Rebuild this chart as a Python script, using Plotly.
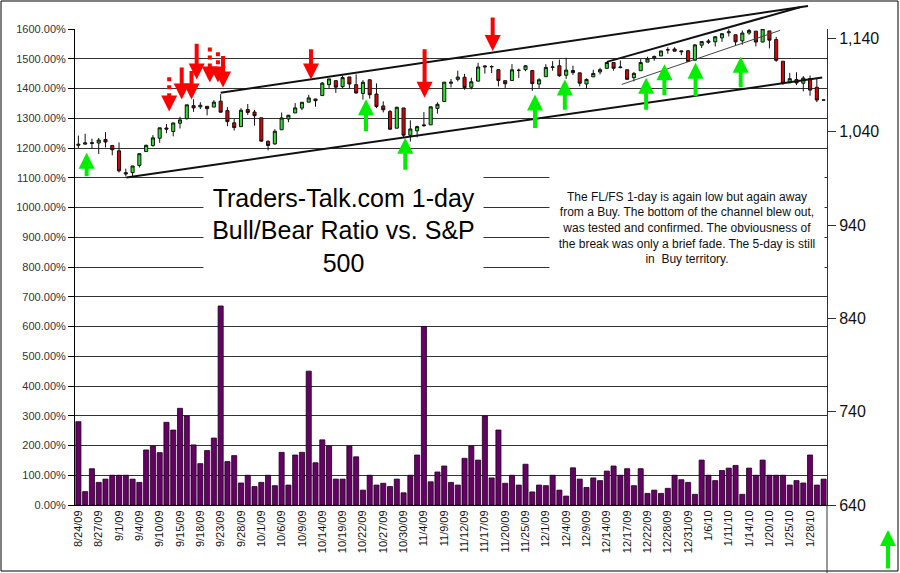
import plotly.graph_objects as go

# ---------------- data ----------------
dates = ["8/24/09", "8/25/09", "8/26/09", "8/27/09", "8/28/09", "8/31/09",
         "9/1/09", "9/2/09", "9/3/09", "9/4/09", "9/8/09", "9/9/09", "9/10/09", "9/11/09",
         "9/14/09", "9/15/09", "9/16/09", "9/17/09", "9/18/09", "9/21/09", "9/22/09",
         "9/23/09", "9/24/09", "9/25/09", "9/28/09", "9/29/09", "9/30/09",
         "10/1/09", "10/2/09", "10/5/09", "10/6/09", "10/7/09", "10/8/09", "10/9/09",
         "10/12/09", "10/13/09", "10/14/09", "10/15/09", "10/16/09", "10/19/09",
         "10/20/09", "10/21/09", "10/22/09", "10/23/09", "10/26/09", "10/27/09",
         "10/28/09", "10/29/09", "10/30/09",
         "11/2/09", "11/3/09", "11/4/09", "11/5/09", "11/6/09", "11/9/09", "11/10/09",
         "11/11/09", "11/12/09", "11/13/09", "11/16/09", "11/17/09", "11/18/09",
         "11/19/09", "11/20/09", "11/23/09", "11/24/09", "11/25/09", "11/27/09", "11/30/09",
         "12/1/09", "12/2/09", "12/3/09", "12/4/09", "12/7/09", "12/8/09", "12/9/09",
         "12/10/09", "12/11/09", "12/14/09", "12/15/09", "12/16/09", "12/17/09",
         "12/18/09", "12/21/09", "12/22/09", "12/23/09", "12/24/09", "12/28/09",
         "12/29/09", "12/30/09", "12/31/09",
         "1/4/10", "1/5/10", "1/6/10", "1/7/10", "1/8/10", "1/11/10", "1/12/10",
         "1/13/10", "1/14/10", "1/15/10", "1/19/10", "1/20/10", "1/21/10", "1/22/10",
         "1/25/10", "1/26/10", "1/27/10", "1/28/10", "1/29/10", "2/1/10"]

# Bull/Bear ratio (1.00 = 100%)
bull_bear = [2.80, 0.45, 1.22, 0.76, 0.87, 1.00, 1.00, 1.00, 0.87, 0.76,
             1.85, 1.98, 1.76, 2.78, 2.52, 3.25, 2.99, 2.02, 1.39, 1.83,
             2.25, 6.69, 1.46, 1.66, 0.74, 1.00, 0.62, 0.76, 1.00, 0.65,
             1.77, 0.67, 1.68, 1.77, 4.50, 1.42, 2.19, 1.98, 0.87, 0.87,
             1.98, 1.62, 0.50, 1.00, 0.67, 0.73, 0.62, 0.87, 0.41, 1.00,
             1.68, 6.00, 0.78, 1.11, 1.31, 0.76, 0.67, 1.57, 1.98, 1.51,
             2.99, 0.91, 2.52, 0.73, 1.00, 0.67, 1.37, 0.44, 0.67, 0.65,
             1.00, 0.50, 0.30, 1.25, 0.87, 0.59, 0.91, 0.82, 1.14, 1.31,
             1.00, 1.22, 0.65, 1.22, 0.39, 0.50, 0.39, 0.56, 1.00, 0.85,
             0.76, 0.36, 1.51, 1.00, 0.82, 1.16, 1.24, 1.33, 0.36, 1.24,
             1.00, 1.51, 1.00, 1.00, 1.00, 0.67, 0.82, 0.74, 1.68, 0.67, 0.87]

spx_open = [1026.59, 1026.63, 1027.35, 1027.81, 1031.62, 1025.21, 1019.52, 996.07, 996.12, 1003.84,
            1018.67, 1025.09, 1032.99, 1043.92, 1040.15, 1049.03, 1053.99, 1067.87, 1066.60, 1067.14,
            1066.35, 1072.69, 1062.56, 1049.48, 1045.38, 1063.69, 1061.02, 1054.91, 1029.71, 1026.87,
            1042.02, 1053.65, 1060.03, 1065.28, 1071.63, 1074.96, 1078.68, 1090.36, 1094.67, 1088.22,
            1098.64, 1090.36, 1080.96, 1095.62, 1080.36, 1067.54, 1061.51, 1043.69, 1065.41, 1036.18,
            1040.92, 1047.30, 1047.30, 1064.95, 1072.31, 1091.86, 1096.04, 1098.31, 1087.59, 1094.13,
            1109.22, 1109.44, 1106.44, 1094.66, 1094.86, 1105.83, 1106.49, 1105.47, 1091.07, 1098.89,
            1109.03, 1110.59, 1100.43, 1105.52, 1103.04, 1091.07, 1098.69, 1103.96, 1107.84, 1114.11,
            1108.61, 1106.36, 1097.86, 1105.31, 1114.51, 1118.84, 1121.08, 1127.53, 1128.55, 1125.53,
            1126.60, 1116.56, 1132.66, 1135.71, 1136.27, 1140.52, 1145.96, 1143.81, 1137.31, 1145.68,
            1147.72, 1136.03, 1147.95, 1138.68, 1115.49, 1092.40, 1095.80, 1091.94, 1096.93, 1087.61,
            1073.89]
spx_high = [1035.82, 1037.75, 1032.47, 1033.33, 1039.47, 1025.21, 1028.45, 1000.34, 1003.43, 1016.48,
            1026.07, 1036.34, 1044.14, 1048.18, 1049.74, 1056.04, 1068.76, 1074.77, 1071.52, 1067.28,
            1073.81, 1080.15, 1066.29, 1053.47, 1065.13, 1069.62, 1063.40, 1054.91, 1030.60, 1042.58,
            1060.55, 1058.02, 1070.67, 1071.51, 1079.46, 1075.30, 1093.17, 1096.56, 1094.67, 1100.17,
            1098.64, 1101.36, 1095.21, 1095.83, 1091.75, 1072.48, 1063.26, 1066.83, 1065.41, 1052.18,
            1046.36, 1061.00, 1066.65, 1071.48, 1093.19, 1096.42, 1105.37, 1101.97, 1097.79, 1113.69,
            1110.52, 1111.10, 1106.44, 1094.66, 1112.38, 1107.56, 1111.18, 1105.47, 1097.24, 1112.28,
            1115.58, 1117.28, 1119.13, 1110.72, 1103.04, 1097.04, 1106.25, 1108.50, 1114.76, 1114.11,
            1116.21, 1106.36, 1103.74, 1117.68, 1120.27, 1121.58, 1126.48, 1130.38, 1130.38, 1126.42,
            1127.64, 1133.87, 1136.63, 1139.19, 1142.46, 1145.39, 1149.74, 1143.81, 1148.40, 1150.41,
            1147.77, 1150.45, 1147.95, 1141.58, 1115.49, 1102.97, 1103.69, 1099.51, 1100.22, 1096.45,
            1073.89]
spx_low = [1022.48, 1026.21, 1021.57, 1016.20, 1023.13, 1014.62, 996.28, 991.97, 992.25, 1001.65,
           1018.67, 1023.97, 1028.04, 1038.40, 1035.00, 1043.42, 1052.87, 1061.20, 1064.27, 1057.46,
           1066.35, 1060.39, 1045.85, 1041.17, 1045.38, 1057.83, 1046.47, 1029.45, 1019.95, 1025.92,
           1042.02, 1050.10, 1060.03, 1063.00, 1071.63, 1066.71, 1078.68, 1086.41, 1081.53, 1086.48,
           1086.16, 1080.77, 1074.31, 1075.49, 1065.23, 1060.62, 1042.19, 1043.69, 1033.38, 1029.38,
           1033.94, 1045.15, 1047.30, 1059.32, 1072.31, 1087.40, 1093.81, 1084.90, 1085.33, 1094.13,
           1102.19, 1102.70, 1088.40, 1086.81, 1094.86, 1097.63, 1104.75, 1083.74, 1086.25, 1098.89,
           1105.29, 1098.74, 1096.52, 1100.83, 1088.61, 1085.89, 1098.69, 1101.34, 1107.84, 1105.35,
           1107.96, 1095.88, 1093.88, 1105.31, 1114.51, 1116.00, 1121.08, 1123.51, 1126.08, 1121.94,
           1114.81, 1116.56, 1129.66, 1133.95, 1131.32, 1136.22, 1142.02, 1131.77, 1133.18, 1143.80,
           1131.39, 1135.77, 1129.25, 1114.84, 1090.18, 1092.40, 1089.86, 1083.11, 1078.46, 1071.59,
           1073.89]
spx_close = [1025.57, 1028.00, 1028.12, 1030.98, 1028.93, 1020.62, 998.04, 994.75, 1003.24, 1016.40,
             1025.39, 1033.37, 1044.14, 1042.73, 1049.34, 1052.63, 1068.76, 1065.49, 1068.30, 1064.66,
             1071.66, 1060.87, 1050.78, 1044.38, 1062.98, 1060.61, 1057.08, 1029.85, 1025.21, 1040.46,
             1054.72, 1057.58, 1065.48, 1071.49, 1076.19, 1073.19, 1092.02, 1096.56, 1087.68, 1097.91,
             1091.06, 1081.40, 1092.91, 1079.60, 1066.95, 1063.41, 1042.63, 1066.11, 1036.19, 1042.88,
             1045.41, 1046.50, 1066.63, 1069.30, 1093.08, 1093.01, 1098.51, 1087.24, 1093.48, 1109.30,
             1110.32, 1109.80, 1094.90, 1091.38, 1106.24, 1105.65, 1110.63, 1091.49, 1095.63, 1108.86,
             1109.24, 1099.92, 1105.98, 1103.25, 1091.94, 1095.95, 1102.35, 1106.41, 1114.11, 1107.93,
             1109.18, 1096.08, 1102.47, 1114.05, 1118.02, 1120.59, 1126.48, 1127.78, 1126.20, 1126.42,
             1115.10, 1132.99, 1136.52, 1137.14, 1141.69, 1144.98, 1146.98, 1136.22, 1145.68, 1148.46,
             1136.03, 1150.23, 1138.04, 1116.48, 1091.76, 1096.78, 1092.17, 1097.50, 1084.53, 1073.87,
             1073.89]

# signal arrows (category position, price at tip, price at tail)
sell_pos = [13.4, 15.25, 16.7, 17.46, 19.4, 20.6, 21.35, 34.33, 51.1, 61.15]
sell_tip = [1061.7, 1074.5, 1074.5, 1096.0, 1092.8, 1092.8, 1087.4, 1096.0, 1076.4, 1126.4]
sell_tail = [1098.2, 1110.3, 1106.7, 1135.7, 1130.3, 1125.0, 1122.8, 1130.0, 1130.0, 1163.9]
sell_dotted = [True, False, False, False, True, True, False, False, False, False]

buy_pos = [1.22, 42.45, 48.25, 67.4, 71.8, 83.8, 86.5, 91.1, 97.76]
buy_tip = [1017.3, 1074.6, 1033.4, 1079.9, 1096.0, 1097.8, 1112.1, 1113.9, 1120.3]
buy_tail = [990.5, 1038.9, 997.6, 1042.4, 1062.0, 1062.0, 1077.4, 1076.4, 1086.0]

# trend lines: (pos0, price0, pos1, price1, width)
trend_lines = [
    (7.1, 991.0, 109.8, 1098.0, 2),
    (21.0, 1081.7, 107.7, 1174.6, 2),
    (78.0, 1114.8, 106.5, 1173.3, 2),
    (80.2, 1090.6, 103.6, 1148.6, 1),
]

title_text = "Traders-Talk.com 1-day<br>Bull/Bear Ratio vs. S&P<br>500"
note_text = ("The FL/FS 1-day is again low but again away<br>"
             "from a Buy. The bottom of the channel blew out,<br>"
             "was tested and confirmed. The obviousness of<br>"
             "the break was only a brief fade. The 5-day is still<br>"
             "in  Buy territory.")

# ---------------- figure ----------------
FONT = "Arial, Liberation Sans, sans-serif"
N = len(dates)
P_MIN, P_MAX = 640, 1150


def xp(pos):
    return (pos + 0.5) / N


def yp(price):
    return (price - P_MIN) / (P_MAX - P_MIN)


fig = go.Figure()
fig.add_trace(go.Bar(x=dates, y=bull_bear, yaxis="y",
                     marker=dict(color="#660066", line=dict(color="#1a001a", width=0.8)),
                     hoverinfo="skip"))
fig.add_trace(go.Candlestick(x=dates, open=spx_open, high=spx_high, low=spx_low, close=spx_close,
                             yaxis="y2",
                             increasing=dict(fillcolor="#2ee02e", line=dict(color="#111", width=1)),
                             decreasing=dict(fillcolor="#dd0000", line=dict(color="#111", width=1)),
                             whiskerwidth=0))

shapes = []
for x0, y0, x1, y1, w in trend_lines:
    shapes.append(dict(type="line", xref="paper", yref="paper",
                       x0=xp(x0), y0=yp(y0), x1=xp(x1), y1=yp(y1),
                       line=dict(color="#111" if w > 1 else "#444", width=w)))

annotations = []
HEAD = 16  # price units taken by the arrow head for dotted arrows
for pos, tip, tail, dotted in zip(sell_pos, sell_tip, sell_tail, sell_dotted):
    if dotted:
        shapes.append(dict(type="line", xref="x", yref="y2", x0=pos, x1=pos,
                           y0=tail, y1=tip + HEAD,
                           line=dict(color="#ff0000", width=4, dash="dot")))
        tail_used = tip + HEAD
    else:
        tail_used = tail
    annotations.append(dict(x=pos, y=tip, xref="x", yref="y2", ax=pos, ay=tail_used,
                            axref="x", ayref="y2", showarrow=True, arrowhead=2,
                            arrowsize=0.8, arrowwidth=4, arrowcolor="#ff0000", text=""))
for pos, tip, tail in zip(buy_pos, buy_tip, buy_tail):
    annotations.append(dict(x=pos, y=tip, xref="x", yref="y2", ax=pos, ay=tail,
                            axref="x", ayref="y2", showarrow=True, arrowhead=2,
                            arrowsize=0.8, arrowwidth=4, arrowcolor="#00ee00", text=""))

# outside green arrow at bottom right
annotations.append(dict(x=(888 - 75) / 752, y=(505 - 530) / 476, xref="paper", yref="paper",
                        ax=0, ay=40, showarrow=True, arrowhead=2, arrowsize=0.8,
                        arrowwidth=4, arrowcolor="#00ee00", text=""))

# title box and note box (white backgrounds hide gridlines)
annotations.append(dict(x=(343.5 - 75) / 752, y=(505 - 230) / 476, xref="paper", yref="paper",
                        text=title_text, showarrow=False, font=dict(family=FONT, size=25, color="black"),
                        bgcolor="white", width=277, height=112, align="center",
                        xanchor="center", yanchor="middle"))
annotations.append(dict(x=(687 - 75) / 752, y=(505 - 228.5) / 476, xref="paper", yref="paper",
                        text=note_text, showarrow=False, font=dict(family=FONT, size=12, color="#111"),
                        bgcolor="white", width=272, height=106, align="center",
                        xanchor="center", yanchor="middle"))

# outer frame and right axis extension
shapes.append(dict(type="rect", xref="paper", yref="paper",
                   x0=(1 - 75) / 752, x1=(898 - 75) / 752, y0=(505 - 571) / 476, y1=(505 - 1) / 476,
                   line=dict(color="black", width=1), fillcolor="rgba(0,0,0,0)"))
shapes.append(dict(type="line", xref="paper", yref="paper", x0=1, x1=1, y0=0, y1=(505 - 573) / 476,
                   line=dict(color="#333", width=1)))

fig.update_layout(
    width=900, height=573,
    margin=dict(l=75, r=73, t=29, b=68),
    paper_bgcolor="white", plot_bgcolor="white",
    showlegend=False, bargap=0.25, boxgap=0.35,
    font=dict(family=FONT, color="#222"),
    xaxis=dict(type="category", range=[-0.5, N - 0.5], tickmode="array",
               tickvals=dates[::3], ticktext=dates[::3], tickangle=-90,
               tickfont=dict(size=11, color="#111"), showline=True, linecolor="black",
               showgrid=False, ticks="", rangeslider=dict(visible=False), fixedrange=True),
    yaxis=dict(range=[0, 16], dtick=1, tick0=0, tickformat=".2%",
               tickfont=dict(size=11, color="#333"), showgrid=True, gridcolor="#333",
               gridwidth=1, showline=True, linecolor="black", ticks="outside", ticklen=6,
               tickcolor="black", zeroline=False),
    yaxis2=dict(range=[P_MIN, P_MAX], overlaying="y", side="right", tick0=640, dtick=100,
                tickformat=",d", tickfont=dict(size=16, color="#111"), showgrid=False,
                showline=True, linecolor="#333", ticks="outside", ticklen=8, tickcolor="#333",
                zeroline=False),
    shapes=shapes,
    annotations=annotations,
)

fig.write_html("out.html")
